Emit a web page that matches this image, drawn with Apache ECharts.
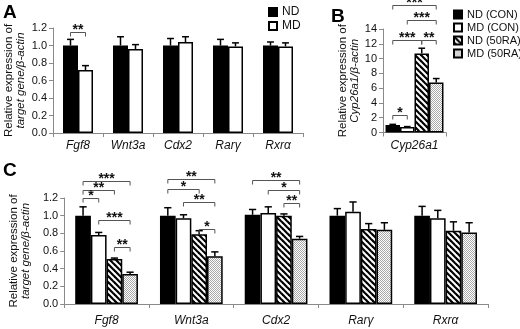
<!DOCTYPE html>
<html>
<head>
<meta charset="utf-8">
<script src="https://cdn.jsdelivr.net/npm/echarts@6/dist/echarts.min.js"></script>
<style>
html, body { margin: 0; padding: 0; background: #fff; }
#main { width: 520px; height: 329px; }
</style>
</head>
<body>
<div id="main"></div>
<script>
var FONT = '"Liberation Sans", Arial, sans-serif';

// ---- panel A : ND vs MD
var genesA = ['Fgf8', 'Wnt3a', 'Cdx2', 'Rarγ', 'Rxrα'];
var ndA = [1.0, 1.0, 1.0, 1.0, 1.0];
var ndAErr = [1.07, 1.10, 1.08, 1.07, 1.04];
var mdA = [0.72, 0.96, 1.04, 0.99, 0.99];
var mdAErr = [0.77, 1.01, 1.10, 1.03, 1.03];
var ticksA = [0, 0.2, 0.4, 0.6, 0.8, 1.0, 1.2];
// [category, bar from, bar to, level]
var sigA = [[0, 0, 1, 1.16]];
var sigAText = ['**'];

// ---- panel B : Cyp26a1
var genesB = ['Cyp26a1'];
var namesB = ['ND (CON)', 'MD (CON)', 'ND (50RA)', 'MD (50RA)'];
var valB = [1.0, 0.75, 10.7, 6.75];
var errB = [1.1, 0.8, 11.4, 7.3];
var ticksB = [0, 2, 4, 6, 8, 10, 12, 14];
var sigB = [[0, 0, 1, 2.4], [0, 0, 2, 12.5], [0, 2, 3, 12.5], [0, 1, 3, 15.2], [0, 0, 3, 17.3]];
var sigBText = ['*', '***', '**', '***', '***'];

// ---- panel C : four groups
var genesC = ['Fgf8', 'Wnt3a', 'Cdx2', 'Rarγ', 'Rxrα'];
var ndConC = [1.0, 1.0, 1.01, 1.0, 1.0];
var ndConCErr = [1.10, 1.09, 1.07, 1.08, 1.105];
var mdConC = [0.78, 0.97, 1.03, 1.045, 0.97];
var mdConCErr = [0.81, 1.01, 1.10, 1.155, 1.06];
var ndRaC = [0.51, 0.79, 1.0, 0.85, 0.83];
var ndRaCErr = [0.52, 0.83, 1.02, 0.91, 0.93];
var mdRaC = [0.34, 0.54, 0.74, 0.84, 0.81];
var mdRaCErr = [0.36, 0.59, 0.765, 0.92, 0.92];
var ticksC = [0, 0.2, 0.4, 0.6, 0.8, 1.0, 1.2];
var sigC = [
  [0, 0, 3, 1.39], [0, 0, 2, 1.29], [0, 0, 1, 1.20], [0, 1, 3, 0.955], [0, 2, 3, 0.65],
  [1, 0, 3, 1.415], [1, 0, 2, 1.30], [1, 1, 3, 1.15], [1, 2, 3, 0.85],
  [2, 0, 3, 1.40], [2, 1, 3, 1.29], [2, 2, 3, 1.14]
];
var sigCText = ['***', '**', '*', '***', '**', '**', '*', '**', '*', '**', '*', '**'];

// fill patterns
function stripes() {
  var c = document.createElement('canvas');
  c.width = c.height = 6;
  var g = c.getContext('2d');
  g.fillStyle = '#fff';
  g.fillRect(0, 0, 6, 6);
  g.strokeStyle = '#000';
  g.lineWidth = 2.2;
  [-6, 0, 6].forEach(function (k) {
    g.beginPath();
    g.moveTo(k - 1, -1);
    g.lineTo(k + 7, 7);
    g.stroke();
  });
  return c;
}
function dots() {
  var c = document.createElement('canvas');
  c.width = c.height = 2;
  var g = c.getContext('2d');
  g.fillStyle = '#fff';
  g.fillRect(0, 0, 2, 2);
  g.fillStyle = '#a8a8a8';
  g.fillRect(0, 0, 1, 1);
  g.fillRect(1, 1, 1, 1);
  return c;
}
var fills = ['#000', '#fff', { image: stripes(), repeat: 'repeat' }, { image: dots(), repeat: 'repeat' }];

var FRAC_A = 0.6, FRAC_B = 0.92, FRAC_C = 0.74;

function barX(api, cat, k, n, frac) {
  var band = api.size([1, 0])[0];
  var w = band * frac / n;
  return { x: api.coord([cat, 0])[0] + (k - (n - 1) / 2) * w, w: w };
}

// error bars (upper half only)
function errSeries(grid, n, frac, data) {
  return {
    type: 'custom', xAxisIndex: grid, yAxisIndex: grid, z: 5, clip: false,
    silent: true, encode: { x: 0, y: 3 }, data: data,
    renderItem: function (params, api) {
      var cat = api.value(0), k = api.value(1);
      var p = barX(api, cat, k, n, frac);
      var y0 = api.coord([cat, api.value(2)])[1];
      var y1 = api.coord([cat, api.value(3)])[1];
      var cap = p.w * 0.46;
      var st = { stroke: '#000', lineWidth: 1.5 };
      return {
        type: 'group', children: [
          { type: 'line', shape: { x1: p.x, y1: y0, x2: p.x, y2: y1 }, style: st },
          { type: 'line', shape: { x1: p.x - cap / 2, y1: y1, x2: p.x + cap / 2, y2: y1 }, style: st }
        ]
      };
    }
  };
}

// significance brackets
function sigSeries(grid, n, frac, data, texts) {
  return {
    type: 'custom', xAxisIndex: grid, yAxisIndex: grid, z: 6, clip: false,
    silent: true, encode: { x: 0, y: 3 }, data: data,
    renderItem: function (params, api) {
      var cat = api.value(0);
      var a = barX(api, cat, api.value(1), n, frac).x;
      var b = barX(api, cat, api.value(2), n, frac).x;
      var y = Math.round(api.coord([cat, api.value(3)])[1]) + 0.5;
      var leg = 4;
      return {
        type: 'group', children: [
          { type: 'polyline', shape: { points: [[a, y + leg], [a, y], [b, y], [b, y + leg]] },
            style: { stroke: '#555', lineWidth: 1, fill: null } },
          { type: 'text', x: (a + b) / 2, y: y - 2,
            style: { text: texts[params.dataIndex], fill: '#111', font: 'bold 14px ' + FONT,
                     textAlign: 'center', textVerticalAlign: 'middle' } }
        ]
      };
    }
  };
}

function errData(vals, errs) {
  var out = [];
  for (var s = 0; s < vals.length; s++) {
    for (var c = 0; c < vals[s].length; c++) out.push([c, s, vals[s][c], errs[s][c]]);
  }
  return out;
}

function catAxis(grid, data, margin) {
  return {
    type: 'category', gridIndex: grid, data: data,
    axisLine: { lineStyle: { color: '#8a8a8a', width: 1 } },
    axisTick: { show: true, length: 4, lineStyle: { color: '#8a8a8a' } },
    axisLabel: { fontStyle: 'italic', fontSize: 12, color: '#111', margin: margin, fontFamily: FONT }
  };
}
function valAxis(grid, ticks, digits, line2, gap) {
  return {
    type: 'value', gridIndex: grid,
    min: ticks[0], max: ticks[ticks.length - 1], interval: ticks[1] - ticks[0],
    splitLine: { show: false },
    axisLine: { show: true, lineStyle: { color: '#8a8a8a', width: 1 } },
    axisTick: { show: true, length: 4, lineStyle: { color: '#8a8a8a' } },
    axisLabel: { fontSize: 11, color: '#111', fontFamily: FONT, margin: 6,
      formatter: function (v) { return v.toFixed(digits); } },
    name: '{a|Relative expression of}\n{b|' + line2 + '}',
    nameLocation: 'middle', nameRotate: 90, nameGap: gap,
    nameTextStyle: {
      rich: {
        a: { fontSize: 11.5, color: '#111', fontFamily: FONT, lineHeight: 12 },
        b: { fontSize: 11.5, color: '#111', fontFamily: FONT, fontStyle: 'italic', lineHeight: 12 }
      }
    }
  };
}

function bar(name, grid, data, fill, frac) {
  return {
    name: name, type: 'bar', xAxisIndex: grid, yAxisIndex: grid, data: data,
    barGap: '0%', barCategoryGap: Math.round((1 - frac) * 100) + '%',
    itemStyle: { color: fill, borderColor: '#000', borderWidth: 1.5 },
    emphasis: { disabled: true }
  };
}

var chart = echarts.init(document.getElementById('main'));
chart.setOption({
  animation: false,
  textStyle: { fontFamily: FONT },
  grid: [
    { left: 53, top: 28, width: 250, height: 105 },
    { left: 383, top: 29, width: 63, height: 103.5 },
    { left: 53, top: 198, width: 435, height: 106 }
  ],
  xAxis: [catAxis(0, genesA, 7), catAxis(1, genesB, 7), catAxis(2, genesC, 11)],
  yAxis: [
    valAxis(0, ticksA, 1, 'target gene/β-actin', 26),
    valAxis(1, ticksB, 0, 'Cyp26a1/β-actin', 20),
    valAxis(2, ticksC, 1, 'target gene/β-actin', 26)
  ],
  legend: [
    { data: ['ND', 'MD'], orient: 'vertical', left: 263, top: 1, itemWidth: 8, itemHeight: 8,
      itemGap: 2, icon: 'rect', textStyle: { fontSize: 12, color: '#111' } },
    { data: namesB, orient: 'vertical', left: 448, top: 4, itemWidth: 8, itemHeight: 8,
      itemGap: 2, icon: 'rect', textStyle: { fontSize: 11, color: '#111' } }
  ],
  graphic: [
    { type: 'text', left: 3, top: 3, style: { text: 'A', font: 'bold 19px ' + FONT, fill: '#000' } },
    { type: 'text', left: 331, top: 7, style: { text: 'B', font: 'bold 19px ' + FONT, fill: '#000' } },
    { type: 'text', left: 3, top: 161, style: { text: 'C', font: 'bold 19px ' + FONT, fill: '#000' } }
  ],
  series: [
    bar('ND', 0, ndA, fills[0], FRAC_A),
    bar('MD', 0, mdA, fills[1], FRAC_A),
    errSeries(0, 2, FRAC_A, errData([ndA, mdA], [ndAErr, mdAErr])),
    sigSeries(0, 2, FRAC_A, sigA, sigAText),

    bar(namesB[0], 1, [valB[0]], fills[0], FRAC_B),
    bar(namesB[1], 1, [valB[1]], fills[1], FRAC_B),
    bar(namesB[2], 1, [valB[2]], fills[2], FRAC_B),
    bar(namesB[3], 1, [valB[3]], fills[3], FRAC_B),
    errSeries(1, 4, FRAC_B, errData([[valB[0]], [valB[1]], [valB[2]], [valB[3]]],
                                    [[errB[0]], [errB[1]], [errB[2]], [errB[3]]])),
    sigSeries(1, 4, FRAC_B, sigB, sigBText),

    bar(namesB[0], 2, ndConC, fills[0], FRAC_C),
    bar(namesB[1], 2, mdConC, fills[1], FRAC_C),
    bar(namesB[2], 2, ndRaC, fills[2], FRAC_C),
    bar(namesB[3], 2, mdRaC, fills[3], FRAC_C),
    errSeries(2, 4, FRAC_C, errData([ndConC, mdConC, ndRaC, mdRaC],
                                    [ndConCErr, mdConCErr, ndRaCErr, mdRaCErr])),
    sigSeries(2, 4, FRAC_C, sigC, sigCText)
  ]
});
</script>
</body>
</html>
